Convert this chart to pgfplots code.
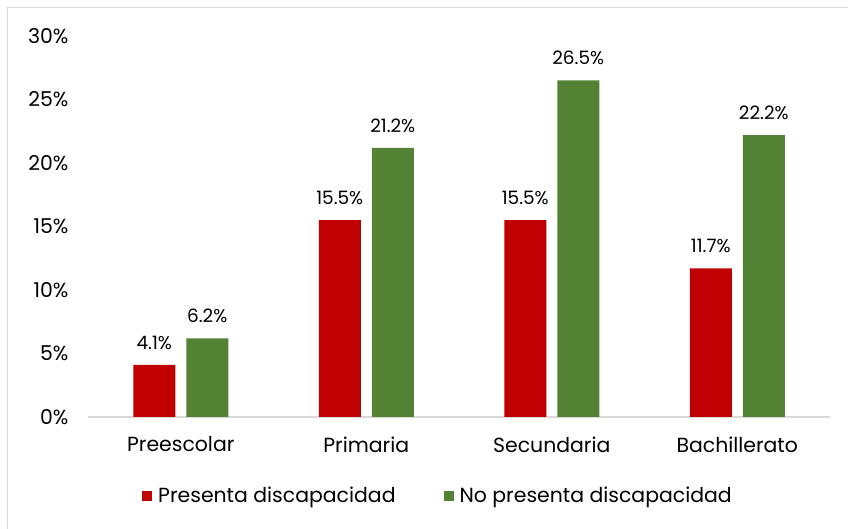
\documentclass[border=0pt]{standalone}
\usepackage{fontspec}
\setmainfont{Poppins}
\usepackage{pgfplots}
\pgfplotsset{compat=1.18}
\definecolor{myred}{HTML}{C00000}
\definecolor{mygreen}{HTML}{548235}
\definecolor{axgray}{HTML}{D9D9D9}
\begin{document}
\begin{tikzpicture}[x=1bp,y=1bp]
\path[use as bounding box] (0,0) rectangle (848,529);
\draw[color=axgray, line width=1.2bp] (7.5,0) -- (7.5,521.5) -- (848,521.5);
\begin{axis}[
  at={(88bp,112bp)}, anchor=south west,
  scale only axis, width=742bp, height=381bp,
  ymin=0, ymax=30, xmin=-0.5, xmax=3.5,
  ybar=11bp, bar width=42bp,
  axis lines*=left,
  y axis line style={draw=none},
  x axis line style={draw=axgray, line width=1.2bp},
  major tick length=0pt,
  ytick={0,5,10,15,20,25,30},
  yticklabel={\pgfmathprintnumber{\tick}\%},
  /pgf/number format/assume math mode=true,
  yticklabel style={font=\fontsize{20.5}{24}\selectfont, xshift=-16bp},
  xtick={0,1,2,3},
  xticklabels={Preescolar,Primaria,Secundaria,Bachillerato},
  xticklabel style={font=\fontsize{20.5}{24}\selectfont, yshift=-16bp},
  nodes near coords={\pgfmathprintnumber[fixed,precision=1,fixed zerofill]{\pgfplotspointmeta}\%},
  every node near coord/.append style={font=\fontsize{18.5}{22}\selectfont, yshift=12bp, /pgf/number format/assume math mode=true},
  legend columns=2,
  legend style={at={(0.4717,-0.207)}, anchor=center, draw=none, font=\fontsize{20.5}{24}\selectfont,
    /tikz/every even column/.append style={column sep=46bp}},
  legend image code/.code={\fill (0bp,-5bp) rectangle (10bp,5bp); \path (14bp,0bp);},
]
\addplot[fill=myred, draw=none] coordinates {(0,4.1) (1,15.5) (2,15.5) (3,11.7)};
\addplot[fill=mygreen, draw=none] coordinates {(0,6.2) (1,21.2) (2,26.5) (3,22.2)};
\legend{Presenta discapacidad, No presenta discapacidad}
\end{axis}
\end{tikzpicture}
\end{document}
